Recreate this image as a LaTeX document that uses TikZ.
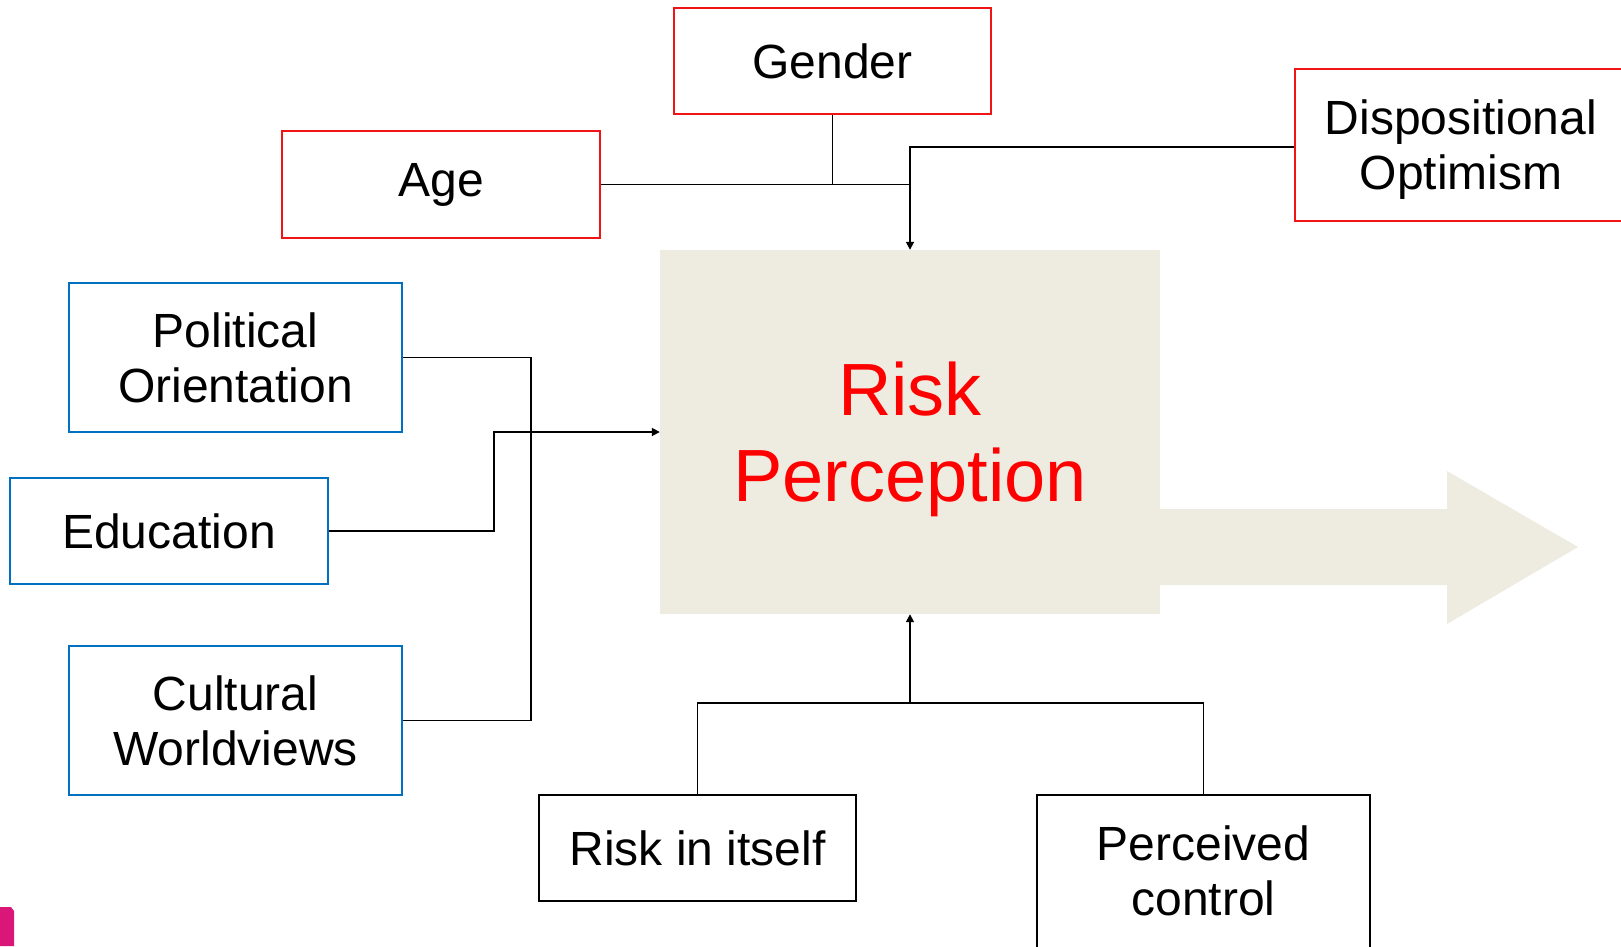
\documentclass[tikz,border=0pt]{standalone}
\usepackage{fontspec}
\setmainfont{Liberation Sans}
\usetikzlibrary{arrows.meta,calc}
\definecolor{beige}{RGB}{238,236,225}
\definecolor{rboxc}{RGB}{240,20,20}
\definecolor{bboxc}{RGB}{0,112,192}
\definecolor{logo}{RGB}{218,22,120}
\begin{document}
\begin{tikzpicture}[x=1pt,y=-1pt,
  box/.style={draw,line width=1.6pt,align=center,inner sep=0pt,
    font=\fontsize{48}{55}\selectfont},
  redbox/.style={box,draw=rboxc},
  bluebox/.style={box,draw=bboxc},
  blackbox/.style={box,draw=black},
  lbl/.style={align=center,inner sep=0pt,font=\fontsize{48}{55}\selectfont},
  conn/.style={line width=1.7pt,black},
  arr/.style={conn,-{Triangle[length=8pt,width=8pt]}}]
\useasboundingbox (0,0) rectangle (1621,946);
% big arrow
\fill[beige] (1150,509) -- (1447,509) -- (1447,471) -- (1578,547) -- (1447,624) -- (1447,585) -- (1150,585) -- cycle;
\node[fill=beige,minimum width=500pt,minimum height=364pt,inner sep=0pt] (rp) at (910,432) {};
\node[align=center,inner sep=0pt,text=red,font=\fontsize{74}{86}\selectfont] (rpt) at (910,439) {Risk\\Perception};
% boxes
\node[redbox,minimum width=317pt,minimum height=106pt] (gender) at (832.5,61) {Gender};
\node[redbox,minimum width=318pt,minimum height=107pt] (age) at (441,184.5) {Age};
\node[redbox,minimum width=332pt,minimum height=152pt] (disp) at (1461,145) {};
\node[lbl] (dispt) at (1461,150) {Dispositional\\Optimism};
\node[bluebox,minimum width=333pt,minimum height=149pt] (pol) at (235.5,357.5) {Political\\Orientation};
\node[bluebox,minimum width=318pt,minimum height=106pt] (edu) at (169,531) {Education};
\node[bluebox,minimum width=333pt,minimum height=149pt] (cult) at (235.5,720.5) {Cultural\\Worldviews};
\node[blackbox,minimum width=317pt,minimum height=106pt] (rit) at (697.5,848) {Risk in itself};
\node[blackbox,minimum width=333pt,minimum height=200pt] (pc) at (1203.5,895) {};
\node[lbl] (pct) at (1203.5,871) {Perceived\\control};
% logo fragment
\fill[logo] (0,907) -- (11,907) -- (14,911) -- (14,946) -- (0,946) -- cycle;
% top connectors
\draw[conn] (gender.south) -- (gender.south |- age.east);
\draw[conn] (age.east) -- (age.east -| rp.north);
\draw[arr] ($(disp.west)+(0,2)$) -| (rp.north);
% left connectors
\draw[conn] (pol.east) -- ++(128,0) |- (cult.east);
\draw[arr] (edu.east) -- ++(165,0) |- (rp.west);
% bottom connectors
\coordinate (bj) at ($(rit.north)+(0,-91)$);
\draw[conn] (rit.north) -- (bj) -| (pc.north);
\draw[arr] (bj -| rp.south) -- (rp.south);
\end{tikzpicture}
\end{document}
